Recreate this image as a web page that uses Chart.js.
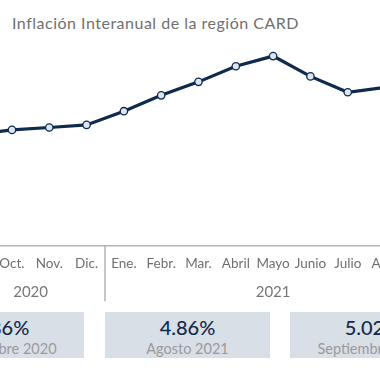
<!DOCTYPE html>
<html>
<head>
<meta charset="utf-8">
<script src="https://cdn.jsdelivr.net/npm/chart.js@4/dist/chart.umd.min.js"></script>
<style>
html,body{margin:0;padding:0;background:#fff;width:380px;height:380px;overflow:hidden;position:relative;font-family:Lato,"Open Sans",sans-serif;}
#title{position:absolute;left:12px;top:13px;font-size:16px;color:#6f6f6f;white-space:nowrap;letter-spacing:0.5px;}
#wrap{position:absolute;left:-44px;top:0;width:485px;height:305px;}
.box{position:absolute;top:312px;width:165px;height:46px;background:#d9dfe7;text-align:center;}
.box .v{position:absolute;left:0;right:0;top:3px;font-size:20px;color:#142a4c;font-weight:500;}
.box .l{position:absolute;left:0;right:0;top:28px;font-size:14.5px;color:#9a9a9a;}
</style>
</head>
<body>
<div id="title">Inflación Interanual de la región CARD</div>
<div id="wrap"><canvas id="c"></canvas></div>
<div id="boxes"></div>
<script>
const months = ['Sept.','Oct.','Nov.','Dic.','Ene.','Febr.','Mar.','Abril','Mayo','Junio','Julio','Ago.','Sept.'];
const inflation = [2.86,3.06,3.16,3.27,3.85,4.52,5.09,5.75,6.18,5.32,4.65,4.86,5.02];
const years = ['2020','2021'];
const yearSpans = [4,9];
const boxValues = ['2.86%','4.86%','5.02%'];
const boxLabels = ['Septiembre 2020','Agosto 2021','Septiembre 2021'];

const boxLefts = [-81,105,290];
const bx = document.getElementById('boxes');
boxValues.forEach((v,i)=>{
  const d=document.createElement('div');d.className='box';d.style.left=boxLefts[i]+'px';
  d.innerHTML='<div class="v">'+v+'</div><div class="l">'+boxLabels[i]+'</div>';
  bx.appendChild(d);
});

const yearPlugin = {
  id:'years',
  afterDraw(chart){
    const ctx=chart.ctx, xs=chart.scales.x, area=chart.chartArea;
    const half=(xs.getPixelForValue(1)-xs.getPixelForValue(0))/2;
    let start=0;
    ctx.save();
    ctx.font='15px Lato, "Open Sans", sans-serif';
    ctx.fillStyle='#777';
    ctx.textAlign='center';ctx.textBaseline='middle';
    ctx.strokeStyle='#b5b5b5';ctx.lineWidth=1.5;
    const bounds=[];
    years.forEach((y,i)=>{
      const l=xs.getPixelForValue(start)-half;
      const r=xs.getPixelForValue(start+yearSpans[i]-1)+half;
      ctx.fillText(y,(l+r)/2,area.bottom+47);
      bounds.push(l,r);
      start+=yearSpans[i];
    });
    [...new Set(bounds.map(b=>Math.round(b)))].forEach(b=>{
      ctx.beginPath();ctx.moveTo(b,area.bottom);ctx.lineTo(b,area.bottom+56);ctx.stroke();
    });
    ctx.restore();
  }
};

new Chart(document.getElementById('c'),{
  type:'line',
  data:{labels:months,datasets:[{
    data:inflation,
    borderColor:'#0f2a4e',borderWidth:3.2,
    pointRadius:3.7,pointBackgroundColor:'#dde5f0',pointBorderColor:'#0f2a4e',pointBorderWidth:1.3,
    tension:0
  }]},
  options:{
    responsive:true,maintainAspectRatio:false,animation:false,
    layout:{autoPadding:false,padding:{top:40,bottom:24,left:0,right:0}},
    plugins:{legend:{display:false},tooltip:{enabled:false}},
    scales:{
      x:{offset:true,grid:{display:false,drawTicks:false},border:{display:true,color:'#b5b5b5',width:1.5},
         ticks:{color:'#6f6f6f',padding:3,maxRotation:0,autoSkip:false,font:{size:13.5,lineHeight:2.2,family:'Lato, "Open Sans", sans-serif'}}},
      y:{display:false,min:-1.82,max:6.86}
    }
  },
  plugins:[yearPlugin]
});
</script>
</body>
</html>
